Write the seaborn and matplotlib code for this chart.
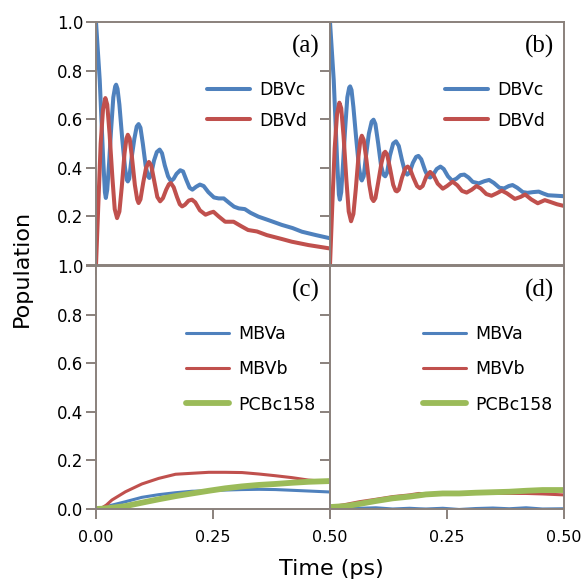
import numpy as np
import pandas as pd
import seaborn as sns
import matplotlib
matplotlib.use("Agg")
import matplotlib.pyplot as plt

# ---- panel (a) ----
tA_c = [0.000, 0.008, 0.015, 0.019, 0.021, 0.024, 0.028, 0.032, 0.037, 0.041, 0.043, 0.046, 0.050, 0.056,
        0.062, 0.066, 0.068, 0.071, 0.076, 0.082, 0.087, 0.091, 0.095, 0.100, 0.106, 0.111, 0.114, 0.118,
        0.124, 0.130, 0.136, 0.141, 0.147, 0.154, 0.160, 0.166, 0.172, 0.180, 0.186, 0.193, 0.200, 0.206,
        0.214, 0.222, 0.230, 0.240, 0.252, 0.262, 0.273, 0.285, 0.295, 0.305, 0.318, 0.330, 0.347, 0.368,
        0.397, 0.420, 0.440, 0.470, 0.500]
vA_c = [1.00, 0.76, 0.45, 0.30, 0.276, 0.31, 0.42, 0.55, 0.69, 0.735, 0.742, 0.725, 0.66, 0.52,
        0.40, 0.35, 0.344, 0.355, 0.44, 0.52, 0.57, 0.58, 0.565, 0.50, 0.41, 0.365, 0.358, 0.375,
        0.43, 0.465, 0.475, 0.46, 0.41, 0.365, 0.345, 0.355, 0.375, 0.39, 0.385, 0.35, 0.318, 0.31,
        0.322, 0.331, 0.325, 0.30, 0.278, 0.274, 0.274, 0.255, 0.24, 0.233, 0.230, 0.215, 0.199, 0.185,
        0.165, 0.152, 0.137, 0.123, 0.11]
tA_d = [0.000, 0.005, 0.010, 0.015, 0.020, 0.024, 0.029, 0.035, 0.040, 0.045, 0.050, 0.055, 0.061, 0.065,
        0.068, 0.072, 0.077, 0.083, 0.088, 0.091, 0.095, 0.101, 0.107, 0.113, 0.118, 0.124, 0.131, 0.137,
        0.143, 0.150, 0.156, 0.160, 0.166, 0.173, 0.179, 0.184, 0.190, 0.198, 0.205, 0.212, 0.222, 0.234,
        0.244, 0.251, 0.262, 0.276, 0.294, 0.310, 0.325, 0.344, 0.365, 0.397, 0.418, 0.454, 0.500]
vA_d = [0.00, 0.25, 0.50, 0.64, 0.687, 0.66, 0.54, 0.36, 0.23, 0.193, 0.22, 0.32, 0.46, 0.52,
        0.536, 0.52, 0.44, 0.33, 0.27, 0.255, 0.27, 0.34, 0.40, 0.424, 0.41, 0.35, 0.28, 0.262,
        0.275, 0.31, 0.333, 0.337, 0.32, 0.28, 0.25, 0.241, 0.248, 0.265, 0.269, 0.258, 0.225, 0.207,
        0.215, 0.219, 0.20, 0.178, 0.178, 0.16, 0.144, 0.138, 0.123, 0.107, 0.096, 0.082, 0.068]

# ---- panel (b) ----
tB_c = [0.000, 0.008, 0.015, 0.019, 0.021, 0.024, 0.028, 0.032, 0.037, 0.041, 0.043, 0.046, 0.050, 0.056,
        0.062, 0.066, 0.068, 0.072, 0.077, 0.083, 0.089, 0.093, 0.097, 0.103, 0.109, 0.114, 0.118, 0.122,
        0.128, 0.135, 0.141, 0.147, 0.154, 0.160, 0.165, 0.170, 0.177, 0.184, 0.189, 0.195, 0.203, 0.209,
        0.214, 0.220, 0.228, 0.236, 0.243, 0.252, 0.261, 0.270, 0.279, 0.287, 0.296, 0.305, 0.318, 0.330,
        0.340, 0.350, 0.362, 0.372, 0.382, 0.390, 0.400, 0.412, 0.422, 0.434, 0.446, 0.456, 0.466, 0.484, 0.500]
vB_c = [1.00, 0.76, 0.44, 0.29, 0.269, 0.30, 0.42, 0.55, 0.69, 0.73, 0.735, 0.72, 0.65, 0.52,
        0.40, 0.355, 0.348, 0.365, 0.45, 0.54, 0.59, 0.598, 0.58, 0.50, 0.41, 0.372, 0.365, 0.38,
        0.45, 0.50, 0.509, 0.49, 0.43, 0.385, 0.372, 0.38, 0.42, 0.445, 0.449, 0.435, 0.39, 0.365,
        0.36, 0.37, 0.395, 0.405, 0.395, 0.365, 0.347, 0.355, 0.370, 0.372, 0.36, 0.342, 0.336, 0.345,
        0.350, 0.338, 0.318, 0.315, 0.325, 0.329, 0.318, 0.30, 0.297, 0.300, 0.302, 0.294, 0.287, 0.285, 0.283]
tB_d = [0.000, 0.005, 0.010, 0.015, 0.020, 0.024, 0.029, 0.035, 0.040, 0.045, 0.050, 0.055, 0.061, 0.065,
        0.068, 0.072, 0.078, 0.084, 0.089, 0.093, 0.097, 0.103, 0.110, 0.115, 0.118, 0.122, 0.128, 0.135,
        0.140, 0.143, 0.147, 0.154, 0.161, 0.166, 0.171, 0.178, 0.186, 0.192, 0.198, 0.206, 0.214, 0.221,
        0.230, 0.241, 0.250, 0.262, 0.272, 0.282, 0.292, 0.303, 0.313, 0.322, 0.334, 0.345, 0.356, 0.367,
        0.378, 0.395, 0.407, 0.417, 0.430, 0.444, 0.459, 0.470, 0.485, 0.500]
vB_d = [0.00, 0.25, 0.48, 0.62, 0.668, 0.645, 0.53, 0.35, 0.22, 0.18, 0.21, 0.31, 0.45, 0.515,
        0.532, 0.515, 0.43, 0.33, 0.275, 0.263, 0.275, 0.34, 0.42, 0.46, 0.466, 0.455, 0.40, 0.33,
        0.306, 0.303, 0.31, 0.36, 0.398, 0.405, 0.395, 0.36, 0.325, 0.316, 0.325, 0.365, 0.383, 0.37,
        0.335, 0.314, 0.325, 0.343, 0.328, 0.305, 0.298, 0.31, 0.325, 0.315, 0.292, 0.285, 0.295, 0.306,
        0.295, 0.272, 0.280, 0.290, 0.270, 0.254, 0.267, 0.260, 0.250, 0.243]

# ---- panel (c) ----
tC = [0.000, 0.012, 0.022, 0.034, 0.063, 0.098, 0.134, 0.170, 0.205, 0.241, 0.276, 0.312, 0.348, 0.383, 0.419, 0.454, 0.500]
vC_a = [0.000, 0.004, 0.010, 0.016, 0.030, 0.048, 0.059, 0.067, 0.073, 0.075, 0.078, 0.080, 0.081, 0.080, 0.077, 0.074, 0.070]
vC_b = [0.000, 0.004, 0.016, 0.037, 0.071, 0.103, 0.126, 0.143, 0.147, 0.151, 0.151, 0.150, 0.144, 0.137, 0.129, 0.119, 0.112]
vC_p = [0.000, 0.001, 0.003, 0.005, 0.012, 0.026, 0.040, 0.053, 0.064, 0.075, 0.085, 0.093, 0.099, 0.103, 0.108, 0.112, 0.115]

# ---- panel (d) ----
tD = [0.000, 0.034, 0.063, 0.098, 0.134, 0.170, 0.190, 0.205, 0.241, 0.276, 0.312, 0.348, 0.383, 0.419, 0.454, 0.500]
vD_a = [0.008, 0.005, 0.003, 0.005, 0.000, 0.003, 0.001, 0.000, 0.003, -0.002, 0.002, 0.004, 0.001, 0.005, 0.000, 0.001]
vD_b = [0.008, 0.019, 0.030, 0.040, 0.051, 0.058, 0.064, 0.062, 0.064, 0.064, 0.064, 0.064, 0.064, 0.064, 0.062, 0.058]
vD_p = [0.008, 0.012, 0.021, 0.033, 0.044, 0.051, 0.056, 0.060, 0.064, 0.064, 0.067, 0.069, 0.071, 0.075, 0.078, 0.078]

BLUE = "#4F81BD"
RED = "#C0504D"
GREEN = "#9BBB59"
SPINE = "#8a817c"

sns.set_theme(style="white")
plt.rcParams["font.family"] = ["DejaVu Sans"]
plt.rcParams["text.color"] = "black"

W, H = 581, 583
fig = plt.figure(figsize=(W / 100, H / 100), dpi=100)

def px_axes(x0, y0):
    return fig.add_axes([x0 / W, 1 - (y0 + 243) / H, 234 / W, 243 / H])

axA = px_axes(96, 22)
axB = px_axes(330, 22)
axC = px_axes(96, 266)
axD = px_axes(330, 266)

panels = [
    (axA, [(tA_c, vA_c, "DBVc", BLUE, 2.9), (tA_d, vA_d, "DBVd", RED, 2.9)], "(a)", 0.474, 0.757, 0.72),
    (axB, [(tB_c, vB_c, "DBVc", BLUE, 2.9), (tB_d, vB_d, "DBVd", RED, 2.9)], "(b)", 0.491, 0.757, 0.72),
    (axC, [(tC, vC_a, "MBVa", BLUE, 2.2), (tC, vC_b, "MBVb", RED, 2.2), (tC, vC_p, "PCBc158", GREEN, 4.2)],
     "(c)", 0.385, 0.758, 1.0),
    (axD, [(tD, vD_a, "MBVa", BLUE, 2.2), (tD, vD_b, "MBVb", RED, 2.2), (tD, vD_p, "PCBc158", GREEN, 4.2)],
     "(d)", 0.397, 0.758, 1.0),
]

for ax, series, tag, lx, ly, lsp in panels:
    for t, v, name, col, lw in series:
        sns.lineplot(x=t, y=v, ax=ax, color=col, lw=lw, label=name, sort=False, estimator=None)
    ax.set_xlim(0, 0.5)
    ax.set_ylim(0, 1.0)
    ax.set_xticks([0, 0.25, 0.5])
    ax.set_yticks([0, 0.2, 0.4, 0.6, 0.8, 1.0])
    ax.set_xlabel("")
    ax.set_ylabel("")
    for s in ax.spines.values():
        s.set_color(SPINE)
        s.set_linewidth(1.4)
    ax.tick_params(axis="both", direction="out", length=7, width=1.4, color=SPINE,
                   labelcolor="black", bottom=True, left=True)
    ax.tick_params(axis="y", pad=2, labelsize=12)
    ax.tick_params(axis="x", pad=8, labelsize=11.5)
    leg = ax.legend(loc="upper left", bbox_to_anchor=(lx, ly), frameon=False, fontsize=12.5,
                    handlelength=2.5, handletextpad=0.5, labelspacing=lsp, borderpad=0, borderaxespad=0)
    for txt in leg.get_texts():
        txt.set_color("black")
    ax.text(0.957, 0.898, tag, transform=ax.transAxes, ha="right", va="center",
            fontsize=18, family="Liberation Serif", color="black")
    ax.grid(False)

axA.set_xticklabels([])
axB.set_xticklabels([])
axB.set_yticklabels([])
axD.set_yticklabels([])
axA.set_yticklabels(["", "0.2", "0.4", "0.6", "0.8", "1.0"])
axC.set_yticklabels(["0.0", "0.2", "0.4", "0.6", "0.8", "1.0"])
axC.set_xticklabels(["0.00", "0.25", "0.50"])
axD.set_xticklabels(["", "0.25", "0.50"])

fig.text(22 / W, 1 - 268 / H, "Population", rotation=90, ha="center", va="center", fontsize=16, color="black")
fig.text(331 / W, 1 - 569 / H, "Time (ps)", ha="center", va="center", fontsize=16, color="black")

fig.savefig("out.png", dpi=100)
